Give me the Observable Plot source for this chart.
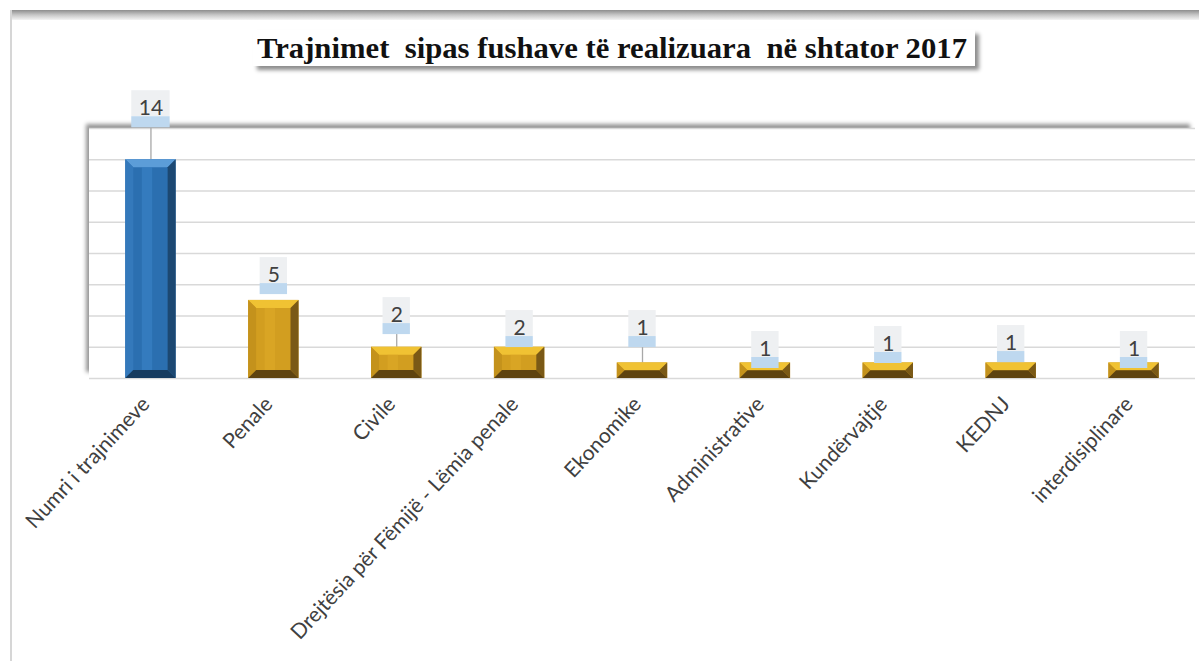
<!DOCTYPE html>
<html>
<head>
<meta charset="utf-8">
<script src="https://cdn.jsdelivr.net/npm/d3@7"></script>
<script src="https://cdn.jsdelivr.net/npm/@observablehq/plot@0.6"></script>
<style>
  html, body { margin: 0; padding: 0; background: #fff; }
  #wrap { position: relative; width: 1199px; height: 661px; overflow: hidden; }
  #topband { position: absolute; left: 10px; top: 10px; width: 1189px; height: 10px;
             background: linear-gradient(#8e8e8e, #c8c8c8 50%, #f4f4f4); }
  #leftline { position: absolute; left: 10px; top: 10px; width: 2px; height: 651px; background: #d6d6d6; }
  #plotbg { position: absolute; background: #fff;
            box-shadow: -4px -5px 4px -1px rgba(0,0,0,0.42); }
  #chart { position: absolute; left: 0; top: 0; }
  #titlebox { position: absolute; left: 253px; top: 30px; width: 722px; height: 36px; background: #fff;
              box-shadow: 4px 4px 4px rgba(0,0,0,0.45); }
  #title { position: absolute; left: 4px; top: 3px; white-space: pre; font-family: "Liberation Serif", serif;
           font-weight: bold; font-size: 30px; line-height: 30px; color: #111; transform-origin: 0 0; }
</style>
</head>
<body>
<div id="wrap">
  <div id="topband"></div>
  <div id="leftline"></div>
  <div id="plotbg"></div>
  <div id="chart"></div>
  <div id="titlebox"><span id="title">Trajnimet  sipas fushave të realizuara  në shtator 2017</span></div>
</div>
<script>
// ---- data ----
const categories = ["Numri i trajnimeve", "Penale", "Civile", "Drejtësia për Fëmijë - Lëmia penale",
  "Ekonomike", "Administrative", "Kundërvajtje", "KEDNJ", "interdisiplinare"];
const values = [14, 5, 2, 2, 1, 1, 1, 1, 1];
const labelAt = [16.05, 5.37, 2.81, 1.98, 1.98, 0.64, 0.96, 1.02, 0.64];
const yTicks = [0, 2, 4, 6, 8, 10, 12, 14, 16];
const yMax = 16;

const data = categories.map((c, i) => ({cat: c, value: values[i], labelAt: labelAt[i], label: String(values[i]), first: i === 0}));

// ---- layout ----
const W = 1199, H = 661;
const M = {top: 128, right: 4, bottom: 283, left: 89};
const plotH = H - M.top - M.bottom;
const unit = plotH / yMax; // px per value unit
const bandPx = 11 / unit, boxPx = 37 / unit;

const bg = document.getElementById("plotbg");
bg.style.left = M.left + "px"; bg.style.top = M.top + "px";
bg.style.width = (W - M.left - M.right) + "px"; bg.style.height = plotH + "px";

const palettes = {
  blue: {front: "#2b6fb0", mid: "#3b84c8", top: "#5c9dd8", left: "#3479bb", right: "#1c4872", bottom: "#163b5f"},
  gold: {front: "#d29e20", mid: "#ddaa28", top: "#f0c233", left: "#c4921c", right: "#7a5916", bottom: "#5e4310"}
};

function bevel(pal) {
  return function(index, scales, values, dimensions, context, next) {
    const g = next(index, scales, values, dimensions, context);
    const ns = "http://www.w3.org/2000/svg";
    const rects = Array.from(g.querySelectorAll("rect"));
    for (const r of rects) {
      const x = +r.getAttribute("x"), y = +r.getAttribute("y");
      const w = +r.getAttribute("width"), h = +r.getAttribute("height");
      const b = Math.min(8, h / 2, w / 4);
      r.setAttribute("fill", pal.front);
      const faces = [
        [[x, y], [x + w, y], [x + w - b, y + b], [x + b, y + b], pal.top],
        [[x, y], [x + b, y + b], [x + b, y + h - b], [x, y + h], pal.left],
        [[x + w, y], [x + w, y + h], [x + w - b, y + h - b], [x + w - b, y + b], pal.right],
        [[x, y + h], [x + b, y + h - b], [x + w - b, y + h - b], [x + w, y + h], pal.bottom]
      ];
      for (const f of faces) {
        const p = document.createElementNS(ns, "polygon");
        p.setAttribute("points", f.slice(0, 4).map(q => q.join(",")).join(" "));
        p.setAttribute("fill", f[4]);
        g.appendChild(p);
      }
      if (h > 2 * b + 4) {
        const s = document.createElementNS(ns, "rect");
        s.setAttribute("x", x + b + (w - 2 * b) * 0.25);
        s.setAttribute("width", (w - 2 * b) * 0.3);
        s.setAttribute("y", y + b);
        s.setAttribute("height", h - 2 * b);
        s.setAttribute("fill", pal.mid);
        s.setAttribute("opacity", 0.6);
        g.appendChild(s);
      }
    }
    return g;
  };
}

const lab = (d) => d.label.length > 1;
const labelFont = "Lato, 'Open Sans', sans-serif";

const chart = Plot.plot({
  width: W, height: H,
  marginTop: M.top, marginRight: M.right, marginBottom: M.bottom, marginLeft: M.left,
  style: {background: "transparent", overflow: "visible"},
  x: {domain: categories, paddingInner: 0.59, paddingOuter: 0.295, round: false, axis: null, label: null},
  y: {domain: [0, yMax], axis: null},
  marks: [
    Plot.gridY(yTicks, {stroke: "#d9d9d9", strokeOpacity: 1, strokeWidth: 1.6}),
    Plot.ruleX(data.filter(d => d.labelAt - d.value > 0.5), {x: "cat", y1: "value", y2: "labelAt", stroke: "#a8a8a8", strokeWidth: 1.3}),
    Plot.barY(data.filter(d => d.first), {x: "cat", y: "value", fill: palettes.blue.front, render: bevel(palettes.blue)}),
    Plot.barY(data.filter(d => !d.first), {x: "cat", y: "value", fill: palettes.gold.front, render: bevel(palettes.gold)}),
    // label boxes (wide and narrow)
    Plot.barY(data.filter(lab), {x: "cat", y1: d => d.labelAt + bandPx, y2: d => d.labelAt + boxPx, fill: "#eef0f2", insetLeft: 6, insetRight: 6}),
    Plot.barY(data.filter(lab), {x: "cat", y1: "labelAt", y2: d => d.labelAt + bandPx, fill: "#bed8ef", insetLeft: 6, insetRight: 6}),
    Plot.barY(data.filter(d => !lab(d)), {x: "cat", y1: d => d.labelAt + bandPx, y2: d => d.labelAt + boxPx, fill: "#eef0f2", insetLeft: 11.5, insetRight: 11.5}),
    Plot.barY(data.filter(d => !lab(d)), {x: "cat", y1: "labelAt", y2: d => d.labelAt + bandPx, fill: "#bed8ef", insetLeft: 11.5, insetRight: 11.5}),
    Plot.text(data, {x: "cat", y: "labelAt", text: "label", dy: -13, lineAnchor: "bottom", fontSize: 21, fill: "#404040", fontFamily: labelFont}),
    Plot.axisX({tickRotate: -47, tickSize: 0, tickPadding: 22, dx: -5, fontSize: 21, fill: "#404040", fontFamily: labelFont, label: null})
  ]
});
document.getElementById("chart").appendChild(chart);

// fit title width
const t = document.getElementById("title");
const tw = t.getBoundingClientRect().width;
t.style.transform = `scaleX(${710 / tw})`;
</script>
</body>
</html>
